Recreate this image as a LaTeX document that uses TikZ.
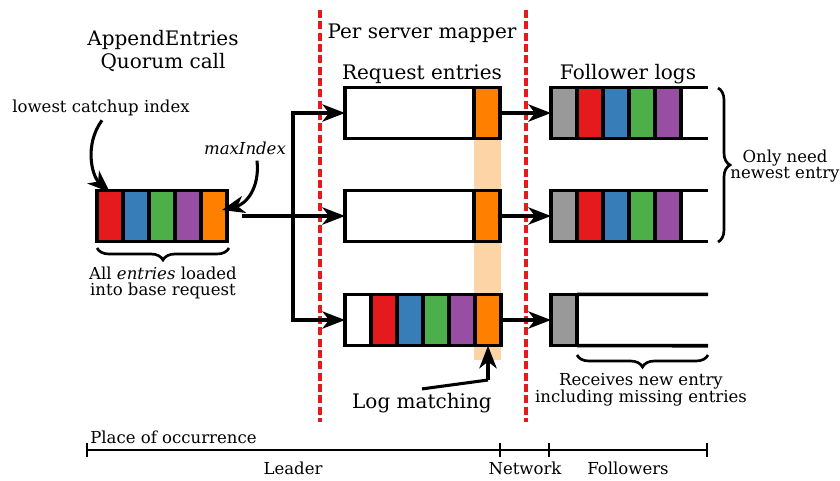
\documentclass[tikz,border=0pt]{standalone}
\usepackage{fontspec}
\setmainfont{DejaVu Serif}
\usetikzlibrary{arrows.meta,decorations.pathreplacing,calc}
\definecolor{cred}{HTML}{E41A1C}
\definecolor{cblue}{HTML}{377EB8}
\definecolor{cgreen}{HTML}{4DAF4A}
\definecolor{cpurple}{HTML}{984EA3}
\definecolor{corange}{HTML}{FF7F00}
\definecolor{cgray}{HTML}{999999}
\definecolor{cband}{HTML}{FDD4A6}
\begin{document}
\begin{tikzpicture}[x=0.75pt,y=-0.75pt,
  cell/.style={draw, line width=2.7pt, inner sep=0pt, outer sep=0pt, minimum width=19.5pt, minimum height=38.5pt, anchor=west},
  conn/.style={line width=2.3pt, -{Stealth[length=17pt,width=13pt,inset=5pt]}},
  plain/.style={line width=2.3pt},
  reddash/.style={draw=cred, line width=2.6pt, dash pattern=on 6pt off 2.5pt},
  bigtext/.style={font=\fontsize{15pt}{17pt}\selectfont, align=center, inner sep=0pt},
  smalltext/.style={font=\fontsize{12.4pt}{12.4pt}\selectfont, align=center, inner sep=0pt},
  bracedeco/.style={line width=2pt, decorate, decoration={brace, amplitude=9pt}},
]
\useasboundingbox (0,0) rectangle (840,480);

% peach band behind
\fill[cband] (474,138) rectangle (501,360);

% red dashed separators
\draw[reddash] (320,10) -- (320,422);
\draw[reddash] (526,10) -- (526,422);

% titles
\node[bigtext] (title) at (163,51) {AppendEntries\\Quorum call};
\node[bigtext] (psm) at (422,33) {Per server mapper};
\node[bigtext] (req) at (422,74) {Request entries};
\node[bigtext] (fol) at (628,74) {Follower logs};

% left base request
\node[cell, fill=cred] (L1) at (97,216) {};
\node[cell, fill=cblue] (L2) at (L1.east) {};
\node[cell, fill=cgreen] (L3) at (L2.east) {};
\node[cell, fill=cpurple] (L4) at (L3.east) {};
\node[cell, fill=corange] (L5) at (L4.east) {};

\node[smalltext] (lci) at (101,108) {lowest catchup index};
\node[smalltext, font=\fontsize{12.4pt}{13pt}\selectfont\itshape] (mi) at (245,148) {maxIndex};
\draw[conn] ($(lci.south)+(1,4)$) .. controls (84,145) and (92,176) .. ($(L1.north)+(0,2)$);
\draw[conn] ($(mi.south)+(12,6)$) .. controls (260,188) and (246,204) .. ($(L5.east)+(-5,-6)$);

\draw[bracedeco] (229,248) -- (97,248);
\node[smalltext] (allent) at (163,283) {All \textit{entries} loaded\\into base request};

% request rows
\node[cell, fill=white, minimum width=96.75pt] (R1a) at (345,113) {};
\node[cell, fill=corange] (R1o) at (R1a.east) {};
\node[cell, fill=white, minimum width=96.75pt] (R2a) at (345,216) {};
\node[cell, fill=corange] (R2o) at (R2a.east) {};
\node[cell, fill=white] (R3w) at (345,320) {};
\node[cell, fill=cred] (R3r) at (R3w.east) {};
\node[cell, fill=cblue] (R3b) at (R3r.east) {};
\node[cell, fill=cgreen] (R3g) at (R3b.east) {};
\node[cell, fill=cpurple] (R3p) at (R3g.east) {};
\node[cell, fill=corange] (R3o) at (R3p.east) {};

% branching connector
\coordinate (lstart) at (242,216);
\coordinate (split) at (293,216);
\draw[plain] (lstart) -- (split);
\draw[conn] (split) -- (R2a.west);
\draw[conn] (split) |- (R1a.west);
\draw[conn] (split) |- (R3w.west);

% follower rows
\foreach \r/\y in {1/113,2/216}{
  \node[cell, fill=cgray] (F\r g) at (551,\y) {};
  \node[cell, fill=cred] (F\r r) at (F\r g.east) {};
  \node[cell, fill=cblue] (F\r b) at (F\r r.east) {};
  \node[cell, fill=cgreen] (F\r n) at (F\r b.east) {};
  \node[cell, fill=cpurple] (F\r p) at (F\r n.east) {};
  \draw[line width=2.7pt] (F\r p.north east) -- ++(27,0);
  \draw[line width=2.7pt] (F\r p.south east) -- ++(27,0);
}
\node[cell, fill=cgray] (F3g) at (551,320) {};
\draw[line width=2.7pt] (F3g.north east) -- (708,294.3);
\draw[line width=2.7pt] (F3g.south east) -- (708,345.7);

\draw[conn] (R1o.east) -- (F1g.west);
\draw[conn] (R2o.east) -- (F2g.west);
\draw[conn] (R3o.east) -- (F3g.west);

% right brace
\draw[bracedeco] (718,88) -- (718,242);
\node[smalltext] (onlyneed) at (785,166) {Only need\\newest entry};

% bottom follower brace
\draw[bracedeco] (708,355) -- (577,355);
\node[smalltext] (recv) at (641,390) {Receives new entry\\including missing entries};

% log matching
\node[bigtext] (lm) at (422,403) {Log matching};
\coordinate (lmbend) at (488,380);
\draw[plain] ($(lm.north)+(0,-4)$) -- (lmbend);
\draw[conn] (lmbend) -- (R3o.south);

% place of occurrence scale
\coordinate (s0) at (87,450);
\coordinate (s1) at (500,450);
\coordinate (s2) at (549,450);
\coordinate (s3) at (707,450);
\draw[line width=1.5pt] (s0) -- (s3);
\foreach \c in {s0,s1,s2,s3}{ \draw[line width=1.3pt] ($(\c)+(0,-7)$) -- ($(\c)+(0,7)$); }
\node[smalltext, anchor=west] (poc) at (90,437) {Place of occurrence};
\node[smalltext] (leader) at (293,468) {Leader};
\node[smalltext] (network) at (525,468) {Network};
\node[smalltext] (followers) at (628,468) {Followers};
\end{tikzpicture}
\end{document}
